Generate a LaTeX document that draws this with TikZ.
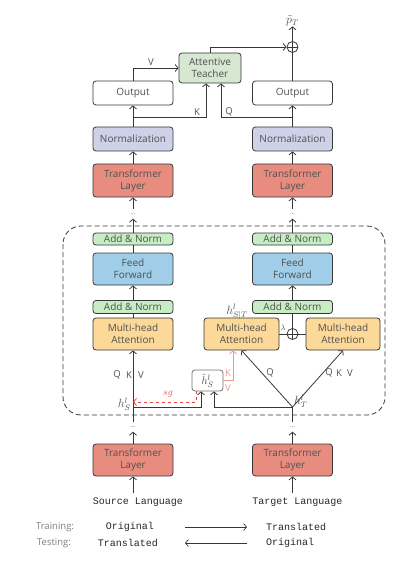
\documentclass[tikz,border=0pt]{standalone}
\usepackage{fontspec}
\setmainfont{Open Sans}
\setmonofont{Liberation Mono}
\usetikzlibrary{arrows.meta}

\newcommand\boxWidth{80pt}

\definecolor{teacherGreen}{RGB}{214,232,209}
\definecolor{normPurple}{RGB}{207,209,232}
\definecolor{layerRed}{RGB}{232,140,128}
\definecolor{addGreen}{RGB}{200,237,196}
\definecolor{ffBlue}{RGB}{160,205,232}
\definecolor{attnOrange}{RGB}{252,217,152}
\definecolor{lineGray}{RGB}{55,55,55}
\definecolor{textGray}{RGB}{80,80,80}
\definecolor{sgRed}{RGB}{230,70,70}
\definecolor{kvSalmon}{RGB}{238,150,140}

\begin{document}
\begin{tikzpicture}[x=1pt, y=-1pt,
    block/.style={draw=lineGray, line width=0.8pt, rounded corners=3pt, minimum width=\boxWidth, inner sep=0pt, align=center, text=textGray, font=\fontsize{10}{12}\selectfont},
    wire/.style={draw=lineGray, line width=0.8pt},
    arr/.style={wire, -{Straight Barb[length=3pt,width=7pt]}},
    tag/.style={text=textGray, font=\fontsize{9.5}{11}\selectfont, inner sep=0pt},
    mathtag/.style={text=textGray, font=\fontsize{12}{14}\selectfont, inner sep=0pt},
    dotsnode/.style={text=textGray, font=\fontsize{6}{6}\selectfont, inner sep=0pt, minimum height=9pt},
    mono/.style={text=black!85, font=\ttfamily\fontsize{10}{12}\selectfont, inner sep=0pt},
    legend/.style={text=black!50, font=\fontsize{9.5}{11}\selectfont, inner sep=0pt}]
    \def\plusNode[#1,#2,#3]{% circle with a cross. Arguments are name and x,y position
        \node [circle, draw=lineGray, line width=0.8pt, minimum size=11pt, inner sep=0pt] (#1) at (#2,#3) {};
        \draw [wire] (#1.north) -- (#1.south) (#1.west) -- (#1.east);
    }
    \useasboundingbox (0,0) rectangle (417,564);
    % Draw the dashed frame of the layer
    \draw [wire, dash pattern=on 5pt off 3pt, rounded corners=18pt] (63,226) rectangle (385,415);
    % Draw the two columns
    \foreach \c/\x/\lang in {L/133/Source Language, R/292.5/Target Language} {
        \node [block, fill=white, minimum height=24pt] (out\c) at (\x,93) {Output};
        \node [block, fill=normPurple, minimum height=24pt] (norm\c) at (\x,139) {Normalization};
        \node [block, fill=layerRed, minimum height=33pt] (tl\c) at (\x,180.5) {Transformer\\Layer};
        \node [dotsnode] (dotsTop\c) at (\x,214) {...};
        \node [block, fill=addGreen, minimum height=12pt] (anA\c) at (\x,239) {Add \& Norm};
        \node [block, fill=ffBlue, minimum height=32pt] (ff\c) at (\x,269) {Feed\\Forward};
        \node [block, fill=addGreen, minimum height=13pt] (anB\c) at (\x,307) {Add \& Norm};
        \node [dotsnode] (dotsBot\c) at (\x,427) {...};
        \node [block, fill=layerRed, minimum height=32pt] (tlIn\c) at (\x,460) {Transformer\\Layer};
        \node [mono, inner ysep=4pt] (lang\c) at (\x+5,502) {\lang};
        \draw [arr] (tl\c.north) -- (norm\c.south);
        \draw [arr] (norm\c.north) -- (out\c.south);
        \draw [arr] (dotsTop\c.north) -- (tl\c.south);
        \draw [arr] (anA\c.north) -- (dotsTop\c.south);
        \draw [wire] (ff\c.north) -- (anA\c.south);
        \draw [arr] (anB\c.north) -- (ff\c.south);
        \draw [arr] (tlIn\c.north) -- (dotsBot\c.south);
        \draw [arr] (lang\c.north -| tlIn\c.south) -- (tlIn\c.south);
    }
    % Attention blocks
    \node [block, fill=attnOrange, minimum height=32pt] (mhaL) at (133,334) {Multi-head\\Attention};
    \node [block, fill=attnOrange, minimum height=32pt, minimum width=75pt] (mhaST) at (241.5,334) {Multi-head\\Attention};
    \node [block, fill=attnOrange, minimum height=32pt, minimum width=74pt] (mhaT) at (343,334) {Multi-head\\Attention};
    \plusNode[plusMix,292.5,334]
    \draw [wire] (mhaL.north) -- (anBL.south);
    \draw [wire] (mhaST.east) -- (plusMix.west);
    \draw [wire] (mhaT.west) -- (plusMix.east);
    \draw [wire] (plusMix.north) -- (anBR.south);
    \node [mathtag] (lambdaTag) at (283,328) {$\scriptstyle\lambda$};
    \node [mathtag] (hSTTag) at (237,312) {$h^{l}_{S|T}$};
    % Hidden states of the layer
    \coordinate (hS) at (133,407);
    \coordinate (hT) at (292.5,407);
    \coordinate (sgEnd) at (133,402);
    \node [block, fill=white, draw=black!55, minimum width=31pt, minimum height=21pt, font=\fontsize{11}{13}\selectfont] (hTilde) at (207.5,380.5) {$\tilde{h}^{l}_{S}$};
    \node [mathtag, anchor=east] (hSTag) at (131,404) {$h^{l}_{S}$};
    \node [mathtag, anchor=west] (hTTag) at (294,401) {$h^{l}_{T}$};
    \draw [arr] (dotsBotL.north) -- (mhaL.south);
    \draw [wire] (dotsBotR.north) -- (hT);
    \draw [arr] (hT) -- (mhaST.south);
    \draw [arr] (hT) -- (mhaT.south);
    \draw [arr] (hT) -| ([xshift=6.5pt]hTilde.south);
    \draw [arr] (hS) -| ([xshift=-6.5pt]hTilde.south);
    \draw [sgRed, line width=0.8pt, dashed, -{Straight Barb[length=3pt,width=7pt]}] ([xshift=-11.5pt]hTilde.south) |- (sgEnd);
    \draw [kvSalmon, line width=0.8pt, -{Straight Barb[length=3pt,width=7pt]}] (hTilde.east) -| ([xshift=-8.5pt]mhaST.south);
    \node [mathtag, text=sgRed, font=\fontsize{10}{12}\selectfont] (sgTag) at (168,394) {$sg$};
    \foreach \n/\lx/\ly/\t in {kvK/228/373/K, kvV/228/388/V}
        \node [tag, text=kvSalmon] (\n) at (\lx,\ly) {\t};
    \foreach \n/\lx/\ly/\t in {qL/117/375/Q, kL/129/375/K, vL/141/375/V, qST/270/373/Q, qT/329/373/Q, kT/339/373/K, vT/350/373/V}
        \node [tag] (\n) at (\lx,\ly) {\t};
    % Attentive teacher on top
    \coordinate (kSplit) at (133,117);
    \coordinate (qSplit) at (292.5,117);
    \node [block, fill=teacherGreen, minimum width=62pt, minimum height=30pt] (teacher) at (210,68) {Attentive\\Teacher};
    \plusNode[plusTop,292.5,47]
    \node [mathtag] (pT) at (292.5,21) {$\tilde{p}_T$};
    \draw [arr] (outL.north) |- (teacher.west);
    \draw [arr] (kSplit) -| ([xshift=-4pt]teacher.south);
    \draw [arr] (qSplit) -| ([xshift=11pt]teacher.south);
    \draw [arr] (teacher.north) |- (plusTop.west);
    \draw [wire] (outR.north) -- (plusTop.south);
    \draw [arr] (plusTop.north) -- (pT.south);
    \foreach \n/\lx/\ly/\t in {vTop/151/62/V, kTop/197/112/K, qTop/229/112/Q}
        \node [tag] (\n) at (\lx,\ly) {\t};
    % Draw the legend
    \node [legend] (trainTag) at (55,527) {Training:};
    \node [mono] (trainFrom) at (130,527) {Original};
    \node [mono] (trainTo) at (296,527) {Translated};
    \node [legend] (testTag) at (54,543) {Testing:};
    \node [mono] (testFrom) at (128,543) {Translated};
    \node [mono] (testTo) at (290,543) {Original};
    \coordinate (legA) at (185,527);
    \coordinate (legB) at (247,527);
    \draw [arr, line width=0.7pt] (legA) -- (legB);
    \draw [arr, line width=0.7pt] (legB |- testTag) -- (legA |- testTag);
\end{tikzpicture}
\end{document}
